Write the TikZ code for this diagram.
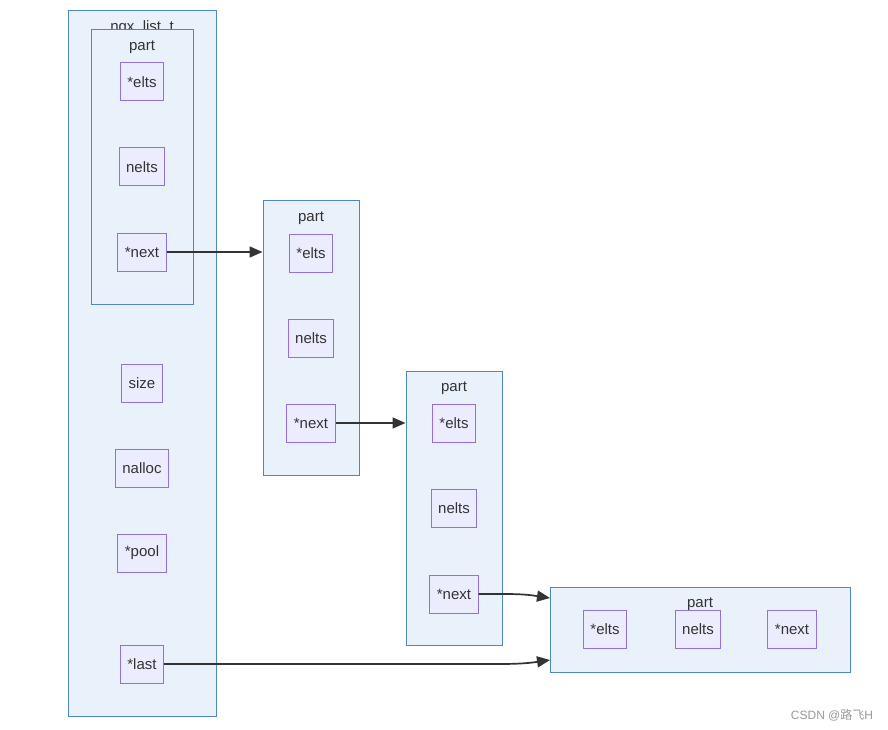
\documentclass[tikz,border=0pt]{standalone}
\usepackage{fontspec}
\setmainfont{Liberation Sans}
\newfontfamily\cjk{Noto Sans CJK SC}
\usetikzlibrary{arrows.meta}
\definecolor{grpfill}{HTML}{E9F1FB}
\definecolor{grpline}{HTML}{4F86C6}
\definecolor{boxfill}{HTML}{ECECFF}
\definecolor{boxline}{HTML}{9370DB}
\definecolor{txt}{HTML}{333333}
\begin{document}
\begin{tikzpicture}[x=1pt,y=-1pt,
  grp/.style={draw=grpline,fill=grpfill,line width=1pt},
  fld/.style={draw=boxline,fill=boxfill,line width=1pt,minimum height=38pt,inner xsep=7pt,text=txt,font=\fontsize{15}{17}\selectfont},
  ttl/.style={text=txt,font=\fontsize{15}{17}\selectfont,inner sep=0pt},
  link/.style={draw=txt,line width=1.7pt,-{Triangle[length=13pt,width=11pt]}}]
\useasboundingbox (0,0) rectangle (888,730);
% outer ngx_list_t
\path[grp] (68,11) rectangle (216,716);
\node[ttl] (ttl0) at (142,28) {ngx\_list\_t};
% part 1
\path[grp] (91,30) rectangle (193,304);
\node[ttl] (ttl1) at (142,47) {part};
\node[fld] (e1) at (142,82) {*elts};
\node[fld] (n1) at (142,167) {nelts};
\node[fld] (x1) at (142,252) {*next};
\node[fld] (size) at (142,383) {size};
\node[fld] (nalloc) at (142,468) {nalloc};
\node[fld] (pool) at (142,553) {*pool};
\node[fld] (last) at (142,664) {*last};
% part 2
\node[grp,minimum width=96pt,minimum height=275pt,inner sep=0pt] (p2) at (311,337.5) {};
\node[ttl] (ttl2) at (311,218) {part};
\node[fld] (e2) at (311,253) {*elts};
\node[fld] (n2) at (311,338) {nelts};
\node[fld] (x2) at (311,423) {*next};
% part 3
\node[grp,minimum width=96pt,minimum height=274pt,inner sep=0pt] (p3) at (454,508) {};
\node[ttl] (ttl3) at (454,388) {part};
\node[fld] (e3) at (454,423) {*elts};
\node[fld] (n3) at (454,508) {nelts};
\node[fld] (x3) at (454,594) {*next};
% part 4
\node[grp,minimum width=300pt,minimum height=85pt,inner sep=0pt] (p4) at (700,629.5) {};
\node[ttl] (ttl4) at (700,604) {part};
\node[fld] (e4) at (605,629) {*elts};
\node[fld] (n4) at (698,629) {nelts};
\node[fld] (x4) at (792,629) {*next};
% links
\draw[link] (x1.east) -- (p2.west |- x1.east);
\draw[link] (x2.east) -- (p3.west |- x2.east);
\coordinate (a3) at (550,598);
\draw[link] (x3.east) -- (505,594) .. controls (528,594) and (536,596) .. (a3);
\coordinate (a4) at (550,660);
\draw[link] (last.east) -- (500,664) .. controls (526,664) and (536,662) .. (a4);
% watermark
\node[text=gray!80,font=\fontsize{12}{14}\selectfont,inner sep=0pt] (wm) at (832,715) {CSDN @{\cjk 路飞}H};
\end{tikzpicture}
\end{document}
